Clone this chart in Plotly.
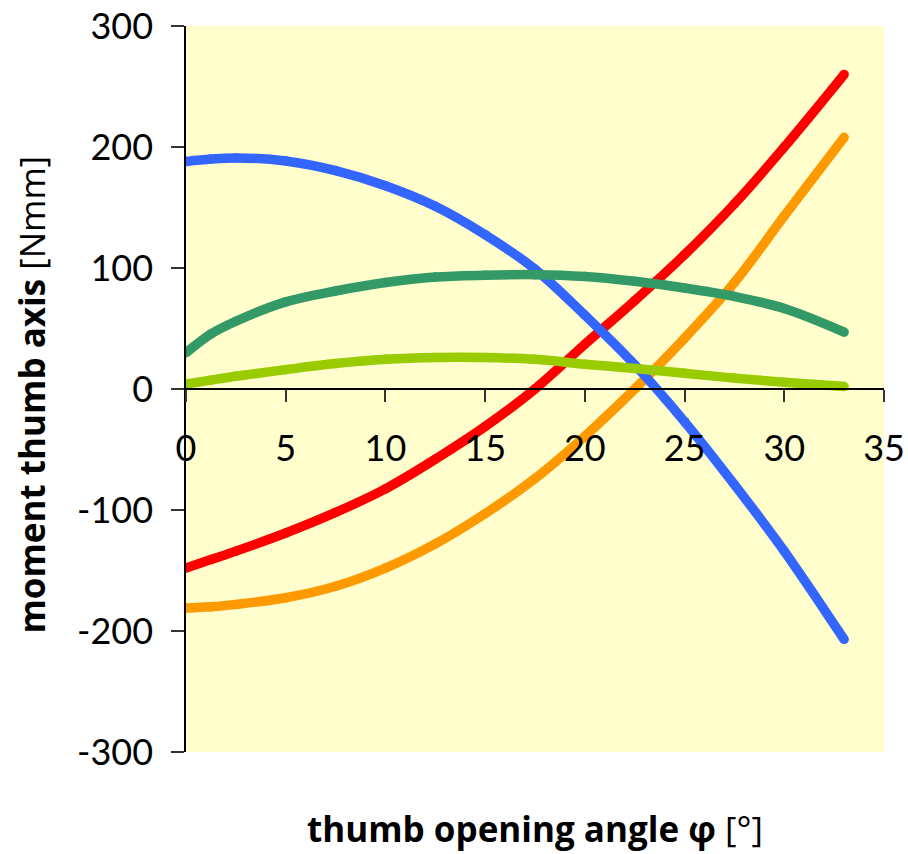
import plotly.graph_objects as go

# thumb opening angle phi [deg]
phi = [0, 1.25, 2.5, 5, 7.5, 10, 12.5, 15, 17.5, 20, 22.5, 25, 27.5, 30, 33]

# moment about thumb axis [Nmm]
m_red = [-148, -141, -134, -119, -102, -82.5, -58, -31, 0, 37, 73, 111, 153, 200, 260]
m_orange = [-181, -180, -178, -172.5, -163, -148, -128, -103, -74, -39, 0, 42, 88, 143, 208]
m_blue = [188, 190, 191, 188.5, 180.5, 168, 151, 127.5, 99, 61, 20, -27, -79, -134, -207]
m_darkgreen = [30, 45.5, 56, 72, 81, 88, 92.5, 94, 94.5, 93, 89, 83.5, 76.5, 66.5, 47]
m_lightgreen = [4, 7.3, 10.5, 16, 21, 24.5, 26, 26, 24.5, 20.5, 17, 13, 9, 5.6, 2]

x_ticks = [0, 5, 10, 15, 20, 25, 30, 35]
y_ticks = [-300, -200, -100, 0, 100, 200, 300]

series = [
    (m_red, "#FF0000"),
    (m_orange, "#FF9900"),
    (m_blue, "#3366FF"),
    (m_darkgreen, "#339966"),
    (m_lightgreen, "#99CC00"),
]

FONT = "Lato"
TFONT = "Open Sans"
W = 9.5

fig = go.Figure()
for vals, col in series:
    fig.add_trace(go.Scatter(
        x=phi, y=vals, mode="lines+markers",
        line=dict(color=col, width=W, shape="spline", smoothing=1.0),
        marker=dict(color=col, size=W, line=dict(width=0)),
        showlegend=False, hoverinfo="skip",
    ))

fig.update_layout(
    width=908, height=854,
    margin=dict(l=186, r=24, t=26, b=102),
    paper_bgcolor="white",
    plot_bgcolor="#FFFECC",
    font=dict(family=FONT, color="black", size=36),
    xaxis=dict(
        range=[0, 35], tickvals=x_ticks, ticktext=[str(v) for v in x_ticks],
        showgrid=False, zeroline=False, automargin=False,
        showline=True, linecolor="black", linewidth=1.5,
        ticks="outside", ticklen=12, tickwidth=1.5, tickcolor="#333",
        anchor="free", position=0.5,
        tickfont=dict(family=FONT, size=36, color="black"),
        ticklabelstandoff=16, ticklabeloverflow="allow",
    ),
    yaxis=dict(
        range=[-300, 300], tickvals=y_ticks, ticktext=[str(v) for v in y_ticks],
        showgrid=False, zeroline=False, automargin=False,
        showline=True, linecolor="black", linewidth=1.5,
        ticks="outside", ticklen=13, tickwidth=1.5, tickcolor="#333",
        tickfont=dict(family=FONT, size=36, color="black"),
        ticklabelstandoff=11, ticklabeloverflow="allow",
    ),
    annotations=[
        dict(text="<b>thumb opening angle φ</b> [°]", xref="paper", yref="paper",
             x=0.5, y=-0.105, xanchor="center", yanchor="middle", showarrow=False,
             font=dict(family=TFONT, size=35, color="black")),
        dict(text="<b>moment thumb axis</b> [Nmm]", xref="paper", yref="paper",
             x=-0.221, y=0.492, xanchor="center", yanchor="middle", showarrow=False,
             textangle=-90, font=dict(family=TFONT, size=35, color="black")),
    ],
)

fig.write_html("out.html", config={"displayModeBar": False},
               post_script="document.body.style.margin='0';")
